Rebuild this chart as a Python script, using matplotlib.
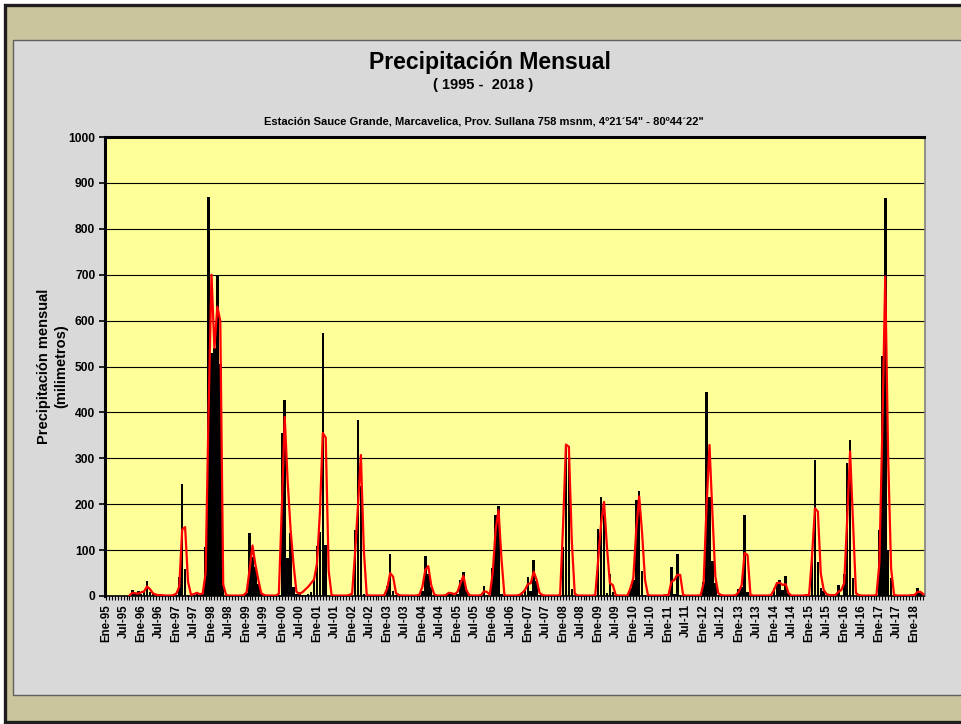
import numpy as np
import matplotlib
matplotlib.use('Agg')
import matplotlib.pyplot as plt
from matplotlib.patches import Rectangle

plt.rcParams['font.family'] = ['Liberation Sans', 'DejaVu Sans']

nan = np.nan

# precipitacion mensual (mm), Ene..Dic de cada año
p1995 = [0, 0, 0, 0, 0, 0, 0, 0, 0, 13, 4, 11]
p1996 = [5, 8, 33, 8, 5, 2, 0, 0, 0, 0, 0, 1]
p1997 = [3, 42, 244, 58, 3, 0, 2, 7, 2, 5, 107, 870]
p1998 = [530, 540, 700, 505, 51, 0, 0, 0, 0, 0, 0, 0]
p1999 = [7, 138, 86, 64, 26, 6, 0, 0, 0, 0, 0, 2]
p2000 = [355, 426, 82, 137, 20, 5, 9, 3, 3, 5, 8, 35]
p2001 = [108, 140, 574, 111, 0, 0, 0, 0, 0, 0, 0, 0]
p2002 = [0, 144, 384, 240, 5, 0, 0, 0, 0, 0, 0, 0]
p2003 = [22, 91, 10, 2, 0, 0, 0, 0, 0, 0, 0, 0]
p2004 = [10, 87, 47, 20, 3, 0, 0, 0, 0, 7, 7, 0]
p2005 = [4, 35, 52, 13, 0, 0, 0, 0, 0, 22, 3, 0]
p2006 = [60, 177, 195, 5, 0, 0, 0, 0, 0, 5, 9, 13]
p2007 = [42, 10, 78, 33, 3, 0, 0, 0, 0, 0, 0, 0]
p2008 = [106, 329, 327, 15, 0, 0, 0, 0, 0, 0, 0, 0]
p2009 = [146, 215, 205, 6, 49, 8, 0, 0, 0, 0, 0, 17]
p2010 = [35, 209, 229, 55, 3, 0, 0, 0, 0, 0, 0, 0]
p2011 = [0, 64, 5, 91, 3, 0, 0, 0, 0, 0, 0, 0]
p2012 = [30, 445, 216, 76, 28, 3, 0, 0, 0, 0, 0, 0]
p2013 = [15, 19, 177, 9, 0, 0, 0, 0, 0, 0, 0, 0]
p2014 = [17, 30, 35, 13, 44, 6, 0, 0, 0, 0, 0, 0]
p2015 = [0, 85, 296, 73, 18, 10, 0, 0, 0, 0, 24, 0]
p2016 = [48, 289, 340, 40, 0, 0, 0, 0, 0, 0, 0, 0]
p2017 = [144, 522, 867, 99, 39, 0, 0, 0, 0, 0, 0, 0]
p2018 = [0, 18, 6, 0]

# curva roja (mm)
c1995 = [nan, nan, nan, nan, nan, nan, nan, nan, 1, 7, 6, 5]
c1996 = [8, 10, 21, 15, 6, 3, 2, 2, 1, 1, 1, 2]
c1997 = [5, 20, 145, 150, 31, 3, 4, 7, 4, 5, 50, 400]
c1998 = [700, 540, 630, 600, 25, 2, 1, 1, 1, 1, 1, 2]
c1999 = [8, 57, 110, 68, 35, 6, 2, 1, 1, 1, 1, 5]
c2000 = [190, 390, 250, 145, 70, 9, 5, 8, 14, 20, 28, 36]
c2001 = [70, 180, 355, 345, 55, 2, 1, 1, 1, 1, 1, 2]
c2002 = [5, 93, 195, 307, 100, 2, 1, 1, 1, 1, 1, 2]
c2003 = [17, 50, 42, 6, 2, 1, 1, 1, 1, 1, 1, 3]
c2004 = [20, 57, 65, 24, 4, 1, 1, 1, 2, 7, 6, 4]
c2005 = [9, 28, 44, 13, 2, 1, 1, 1, 2, 10, 9, 3]
c2006 = [50, 144, 187, 80, 2, 1, 1, 1, 1, 2, 6, 13]
c2007 = [26, 28, 53, 35, 7, 2, 1, 1, 1, 1, 1, 2]
c2008 = [150, 330, 325, 120, 5, 1, 1, 1, 1, 1, 1, 2]
c2009 = [78, 158, 205, 107, 28, 24, 2, 1, 1, 1, 1, 17]
c2010 = [39, 144, 217, 137, 35, 2, 1, 1, 1, 1, 1, 2]
c2011 = [2, 31, 35, 46, 46, 2, 1, 1, 1, 1, 1, 2]
c2012 = [28, 195, 329, 180, 42, 6, 2, 1, 1, 1, 1, 2]
c2013 = [9, 24, 94, 89, 2, 1, 1, 1, 1, 1, 1, 2]
c2014 = [13, 28, 29, 24, 26, 6, 1, 1, 1, 1, 1, 2]
c2015 = [2, 86, 191, 184, 49, 13, 4, 2, 2, 2, 9, 13]
c2016 = [28, 166, 315, 158, 6, 2, 1, 1, 1, 1, 1, 2]
c2017 = [71, 362, 696, 300, 60, 3, 1, 1, 1, 1, 1, 2]
c2018 = [2, 9, 9, 4]

years = list(range(1995, 2019))

lluvia = np.array(p1995 + p1996 + p1997 + p1998 + p1999 + p2000 + p2001 + p2002
                  + p2003 + p2004 + p2005 + p2006 + p2007 + p2008 + p2009 + p2010
                  + p2011 + p2012 + p2013 + p2014 + p2015 + p2016 + p2017 + p2018, dtype=float)
curva = np.array(c1995 + c1996 + c1997 + c1998 + c1999 + c2000 + c2001 + c2002
                 + c2003 + c2004 + c2005 + c2006 + c2007 + c2008 + c2009 + c2010
                 + c2011 + c2012 + c2013 + c2014 + c2015 + c2016 + c2017 + c2018, dtype=float)
meses = np.arange(len(lluvia))

etiquetas = []
for y in years:
    etiquetas.append('Ene-%02d' % (y % 100))
    etiquetas.append('Jul-%02d' % (y % 100))
pos_etiq = np.arange(len(etiquetas)) * 6
keep = pos_etiq < len(lluvia)
pos_etiq = pos_etiq[keep]
etiquetas = [e for e, k in zip(etiquetas, keep) if k]

W, H = 961, 724
fig = plt.figure(figsize=(W / 100, H / 100), dpi=100)
fig.patch.set_facecolor('white')

# marco
fig.patches.append(Rectangle((5 / W, 2 / H), 1.1, (H - 7) / H, transform=fig.transFigure,
                             facecolor='#cbc59e', edgecolor='#1e1e1e', lw=2.4, zorder=-3))
fig.patches.append(Rectangle((13 / W, (H - 695) / H), 1.1, (695 - 40) / H, transform=fig.transFigure,
                             facecolor='#d9d9d9', edgecolor='#5f5f5f', lw=1.0, zorder=-2))

ax = fig.add_axes([105 / W, (H - 596) / H, (924.5 - 105) / W, (596 - 137) / H])
ax.set_facecolor('#ffff99')

ax.bar(meses, lluvia, width=0.88, color='black', zorder=3)
ax.plot(meses, curva, color='#ff0000', lw=1.6, zorder=4)

ax.set_xlim(-0.35, 279.4)
ax.set_ylim(0, 1000)
ax.set_yticks(range(0, 1001, 100))
ax.yaxis.grid(True, color='black', lw=0.8, zorder=1)
ax.set_axisbelow(True)

ax.set_xticks(pos_etiq)
ax.set_xticklabels(etiquetas, rotation=90, fontsize=8.3, fontweight='bold')
ax.set_xticks(meses, minor=True)
ax.tick_params(axis='x', which='both', length=3, width=0.8, direction='out', pad=3)
ax.tick_params(axis='y', length=4, width=1.2, direction='out', pad=3)
for t in ax.get_yticklabels():
    t.set_fontsize(8.7)
    t.set_fontweight('bold')

ax.spines['top'].set_linewidth(2.2)
ax.spines['left'].set_linewidth(2.2)
ax.spines['bottom'].set_linewidth(1.2)
ax.spines['right'].set_linewidth(1.2)
ax.spines['right'].set_color('#7f7f7f')

fig.text(53 / W, 1 - 366 / H, 'Precipitación mensual\n(milimetros)', rotation=90,
         ha='center', va='center', fontsize=10.5, fontweight='bold', linespacing=1.3)

fig.text(490 / W, 1 - 63 / H, 'Precipitación Mensual', ha='center', va='center',
         fontsize=16.6, fontweight='bold')
fig.text(483 / W, 1 - 85 / H, '( 1995 -  2018 )', ha='center', va='center',
         fontsize=10.5, fontweight='bold')
fig.text(484 / W, 1 - 122 / H,
         'Estación Sauce Grande, Marcavelica, Prov. Sullana 758 msnm, 4º21´54" - 80º44´22"',
         ha='center', va='center', fontsize=8, fontweight='bold')

fig.savefig('out.png', dpi=100)
